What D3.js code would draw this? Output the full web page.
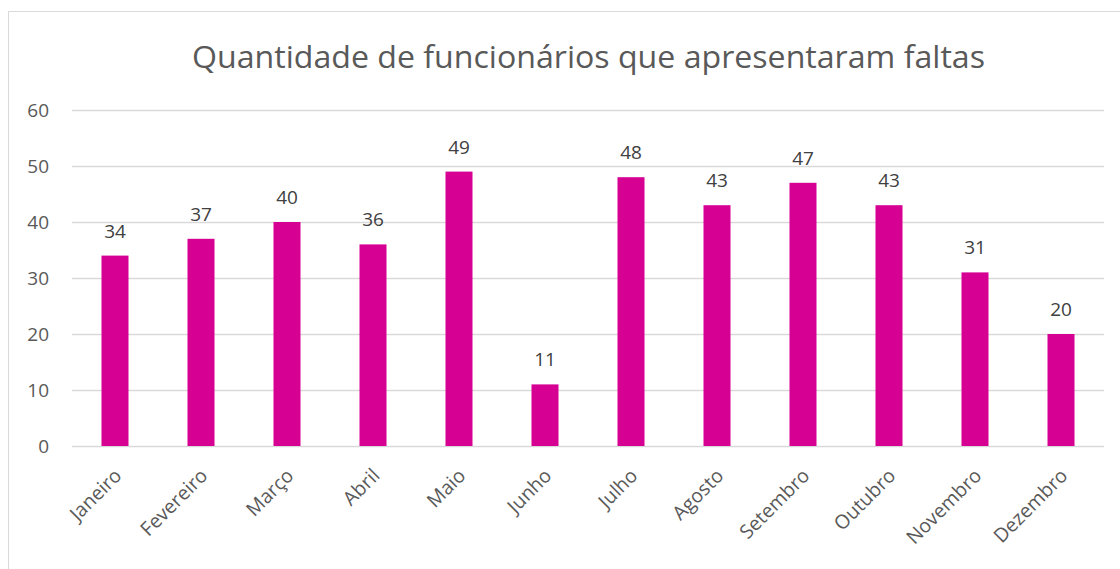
<!DOCTYPE html>
<html><head><meta charset="utf-8">
<script src="https://cdn.jsdelivr.net/npm/d3@7"></script>
<style>body{margin:0;background:#fff}svg{display:block}</style>
</head><body>
<script>
const categories = ["Janeiro","Fevereiro","Março","Abril","Maio","Junho","Julho","Agosto","Setembro","Outubro","Novembro","Dezembro"];
const values = [34,37,40,36,49,11,48,43,47,43,31,20];
const yTicks = [0,10,20,30,40,50,60];
const title = "Quantidade de funcionários que apresentaram faltas";

const W = 1120, H = 569;
const font = "'Open Sans', 'Noto Sans', sans-serif";
const svg = d3.select("body").append("svg").attr("width", W).attr("height", H);

svg.append("rect").attr("x", 8.5).attr("y", 11.5).attr("width", W).attr("height", H)
  .attr("fill", "#fff").attr("stroke", "#D9D9D9");

const x = d3.scaleBand().domain(categories).range([72, 1104]).paddingInner(0.686).paddingOuter(0.343);
const y = d3.scaleLinear().domain([0, 60]).range([446, 110]);

svg.append("text").attr("x", 192).attr("y", 68)
  .attr("font-family", font).attr("font-size", 31).attr("fill", "#595959")
  .attr("textLength", 793).attr("lengthAdjust", "spacingAndGlyphs").text(title);

const gy = svg.append("g").attr("transform", "translate(72,0)")
  .call(d3.axisLeft(y).tickValues(yTicks).tickSize(-1032).tickPadding(23));
gy.select(".domain").remove();
gy.selectAll(".tick line").attr("stroke", "#D9D9D9").attr("stroke-width", 1.3);
gy.selectAll(".tick text").attr("font-family", font).attr("font-size", 19).attr("fill", "#595959");

svg.selectAll("rect.bar").data(values).join("rect").attr("class", "bar")
  .attr("x", (d, i) => x(categories[i])).attr("width", x.bandwidth())
  .attr("y", d => y(d)).attr("height", d => y(0) - y(d)).attr("fill", "#D60093");

svg.selectAll("text.lbl").data(values).join("text").attr("class", "lbl")
  .attr("x", (d, i) => x(categories[i]) + x.bandwidth() / 2).attr("y", d => y(d) - 18)
  .attr("text-anchor", "middle").attr("font-family", font).attr("font-size", 19).attr("fill", "#404040")
  .text(d => d);

svg.selectAll("text.cat").data(categories).join("text").attr("class", "cat")
  .attr("transform", d => `translate(${x(d) + x.bandwidth() / 2 - 4},${465}) rotate(-45)`)
  .attr("text-anchor", "end").attr("dominant-baseline", "hanging")
  .attr("font-family", font).attr("font-size", 19.5).attr("fill", "#595959").text(d => d);
</script>
</body></html>
